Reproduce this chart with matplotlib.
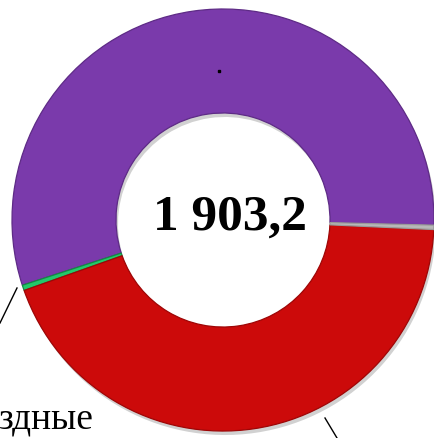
import matplotlib.pyplot as plt

# ========= data =========
labels = ["purple", "green", "red", "gray"]
values = [1054.2, 7.9, 834.8, 6.3]
colors = ["#7A3AAB", "#22C96A", "#CC0A0A", "#B8B8B8"]
edges = ["#5E2B86", "#138A45", "#9E0606", "#9A9A9A"]
total_text = "1 903,2"
cut_label = "здные"
# ========================

W, H = 434, 438
fig = plt.figure(figsize=(W / 100, H / 100), dpi=100)
ax = fig.add_axes([0, 0, 1, 1])

# 1 data unit = 1 pixel, donut centre at (223, 220)
cx, cy = 223, 220
R = 211
ring = 104

# soft shadow under the ring
sh, _ = ax.pie(values, radius=R, startangle=-1.4, counterclock=True,
               center=(2, -4), colors=["#000000"] * len(values),
               wedgeprops=dict(width=ring, linewidth=0, alpha=0.18),
               explode=[0, 0, 0.025, 0], frame=True)

wedges, _ = ax.pie(values, radius=R, startangle=-1.4, counterclock=True,
                   colors=colors, explode=[0, 0, 0.025, 0],
                   wedgeprops=dict(width=ring, linewidth=0.9), frame=True)
for w, ec in zip(wedges, edges):
    w.set_edgecolor(ec)
# green slice sits on the red one
wedges[1].set_center(wedges[2].center)
sh[1].set_center(sh[2].center)

ax.set_xlim(-cx, W - cx)
ax.set_ylim(-(H - cy), cy)
ax.set_aspect("equal")
ax.axis("off")

# centre total
ax.text(7, cy - 230, total_text, ha="center", va="baseline",
        fontsize=37, fontweight="bold", family="Liberation Serif", color="black")

# cut-off outer label and leader lines
ax.text(94 - cx, cy - 428, cut_label, ha="right", va="baseline",
        fontsize=27, family="Liberation Serif", color="black")
ax.plot([17 - cx, 0 - cx], [cy - 288, cy - 323], color="black", lw=1)
ax.plot([325 - cx, 337 - cx], [cy - 418, cy - 438], color="black", lw=1)
ax.plot([219 - cx], [cy - 71], marker="s", ms=1.5, color="black")

plt.savefig("out.png", dpi=100)
plt.close()
